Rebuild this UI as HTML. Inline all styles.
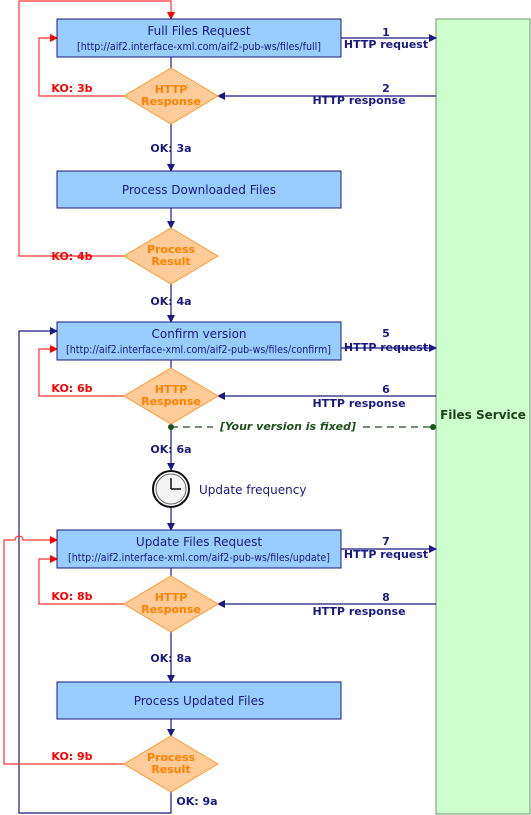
<!DOCTYPE html>
<html><head><style>body{margin:0;background:#fff}svg{display:block}text{font-family:"DejaVu Sans","Liberation Sans",sans-serif}</style></head><body>
<svg width="531" height="815" viewBox="0 0 531 815" xmlns="http://www.w3.org/2000/svg">
<defs>
<marker id="ab" markerWidth="8" markerHeight="8" refX="7" refY="4" orient="auto" markerUnits="userSpaceOnUse"><path d="M0,0L8,4L0,8z" fill="#1a1a80"/></marker>
<marker id="ar" markerWidth="8" markerHeight="8" refX="7" refY="4" orient="auto" markerUnits="userSpaceOnUse"><path d="M0,0L8,4L0,8z" fill="#ff0000"/></marker>
</defs>
<rect x="436" y="19" width="94" height="795" fill="#ccffcc" stroke="#6a9a6a"/>
<text x="483" y="419" font-size="12" font-weight="bold" fill="#1f3f1f" text-anchor="middle">Files Service</text>
<g fill="none" stroke="#1a1a80" stroke-width="1.2">
<path d="M171,57V68" /><path d="M171,124V171" marker-end="url(#ab)"/><path d="M171,208V228" marker-end="url(#ab)"/>
<path d="M171,284V322" marker-end="url(#ab)"/><path d="M171,360V368"/><path d="M171,424V470" marker-end="url(#ab)"/>
<path d="M171,507V530" marker-end="url(#ab)"/><path d="M171,568V576"/><path d="M171,632V682" marker-end="url(#ab)"/>
<path d="M171,719V736" marker-end="url(#ab)"/>
<path d="M171,792V813H19V331H57" marker-end="url(#ab)"/>
<path d="M341,38H436" marker-end="url(#ab)"/><path d="M436,96H218" marker-end="url(#ab)"/>
<path d="M341,348H436" marker-end="url(#ab)"/><path d="M436,396H218" marker-end="url(#ab)"/>
<path d="M341,549H436" marker-end="url(#ab)"/><path d="M436,604H218" marker-end="url(#ab)"/>
</g>
<g fill="none" stroke="#ff3333" stroke-width="1.2">
<path d="M124,96H39V38H57" marker-end="url(#ar)"/>
<path d="M124,256H19V1H171V19" marker-end="url(#ar)"/>
<path d="M124,396H39V349H57" marker-end="url(#ar)"/>
<path d="M124,604H39V559H57" marker-end="url(#ar)"/>
<path d="M124,764H4V540H15A4,4 0 0 1 23,540H57" marker-end="url(#ar)"/>
</g>
<path d="M171,427H433" stroke="#1f4f1f" stroke-dasharray="7,5" stroke-width="1.2"/>
<circle cx="171" cy="427" r="3" fill="#1f4f1f"/><circle cx="433" cy="427" r="3" fill="#1f4f1f"/>
<rect x="213" y="419" width="150" height="14" fill="#fff"/>
<text x="288" y="430" font-size="11" font-weight="bold" font-style="italic" fill="#1f4f1f" text-anchor="middle">[Your version is fixed]</text>
<g fill="#99ccff" stroke="#1a1a80" stroke-width="1">
<rect x="57" y="19" width="284" height="38"/><rect x="57" y="171" width="284" height="37"/>
<rect x="57" y="322" width="284" height="38"/><rect x="57" y="530" width="284" height="38"/>
<rect x="57" y="682" width="284" height="37"/>
</g>
<g fill="#ffcc99" stroke="#ff9933" stroke-width="1">
<path d="M171,68L218,96L171,124L124,96z"/><path d="M171,228L218,256L171,284L124,256z"/>
<path d="M171,368L218,396L171,424L124,396z"/><path d="M171,576L218,604L171,632L124,604z"/>
<path d="M171,736L218,764L171,792L124,764z"/>
</g>
<g font-size="11" font-weight="bold" fill="#ff8000" text-anchor="middle">
<text x="171" y="93">HTTP</text><text x="171" y="105">Response</text>
<text x="171" y="253">Process</text><text x="171" y="265">Result</text>
<text x="171" y="393">HTTP</text><text x="171" y="405">Response</text>
<text x="171" y="601">HTTP</text><text x="171" y="613">Response</text>
<text x="171" y="761">Process</text><text x="171" y="773">Result</text>
</g>
<g font-size="12" fill="#1a1a80" text-anchor="middle">
<text x="199" y="35">Full Files Request</text>
<text x="77" y="50" font-size="11" text-anchor="start" textLength="244" lengthAdjust="spacingAndGlyphs">[http://aif2.interface-xml.com/aif2-pub-ws/files/full]</text>
<text x="199" y="194">Process Downloaded Files</text>
<text x="199" y="338">Confirm version</text>
<text x="66" y="353" font-size="11" text-anchor="start" textLength="265" lengthAdjust="spacingAndGlyphs">[http://aif2.interface-xml.com/aif2-pub-ws/files/confirm]</text>
<text x="199" y="546">Update Files Request</text>
<text x="68" y="561" font-size="11" text-anchor="start" textLength="262" lengthAdjust="spacingAndGlyphs">[http://aif2.interface-xml.com/aif2-pub-ws/files/update]</text>
<text x="199" y="705">Process Updated Files</text>
<text x="199" y="494" text-anchor="start">Update frequency</text>
</g>
<g font-size="11" font-weight="bold" fill="#1a1a80" text-anchor="middle">
<text x="171" y="152">OK: 3a</text><text x="171" y="305">OK: 4a</text><text x="171" y="453">OK: 6a</text>
<text x="171" y="662">OK: 8a</text><text x="197" y="805">OK: 9a</text>
<text x="386" y="36">1</text><text x="386" y="48">HTTP request</text>
<text x="386" y="92">2</text><text x="359" y="104">HTTP response</text>
<text x="386" y="337">5</text><text x="386" y="351">HTTP request</text>
<text x="386" y="393">6</text><text x="359" y="407">HTTP response</text>
<text x="386" y="545">7</text><text x="386" y="558">HTTP request</text>
<text x="386" y="601">8</text><text x="359" y="615">HTTP response</text>
</g>
<g font-size="11" font-weight="bold" fill="#ff0000" text-anchor="middle">
<text x="72" y="92">KO: 3b</text><text x="72" y="260">KO: 4b</text><text x="72" y="392">KO: 6b</text>
<text x="72" y="600">KO: 8b</text><text x="72" y="760">KO: 9b</text>
</g>
<circle cx="171" cy="489" r="18" fill="#fff" stroke="#111" stroke-width="2"/>
<circle cx="171" cy="489" r="15" fill="#f4f4f4" stroke="#666" stroke-width="1"/>
<path d="M171,489V478M171,489H181" stroke="#111" stroke-width="1.5"/>
</svg>
</body></html>
